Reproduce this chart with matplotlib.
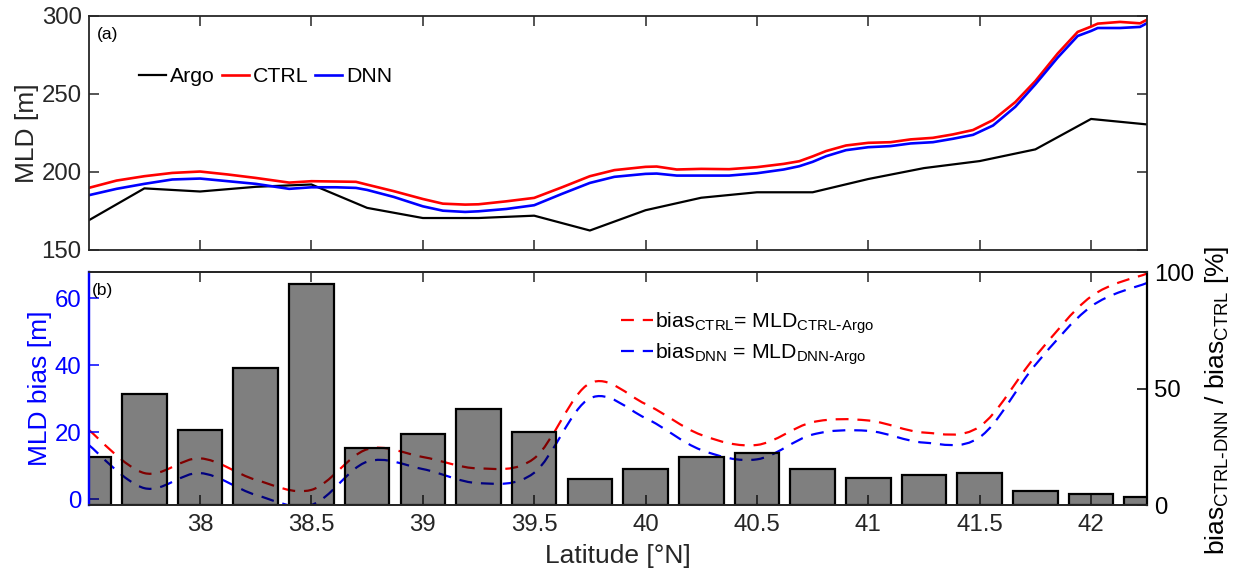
import numpy as np
import matplotlib
matplotlib.use("Agg")
import matplotlib.pyplot as plt
from matplotlib.path import Path
from matplotlib.patches import PathPatch
from matplotlib.lines import Line2D

plt.rcParams["font.family"] = ["Liberation Sans", "DejaVu Sans"]
plt.rcParams["mathtext.default"] = "regular"

# ---------------- data ----------------
# Argo climatology along the section (0.25 deg bins)
lat_argo = [37.5, 37.75, 38.0, 38.25, 38.5, 38.75, 39.0, 39.25, 39.5, 39.75,
            40.0, 40.25, 40.5, 40.75, 41.0, 41.25, 41.5, 41.75, 42.0, 42.25]
mld_argo = [169.0, 189.5, 187.5, 190.5, 192.0, 177.0, 170.5, 170.5, 172.0, 162.5,
            175.5, 183.5, 187.0, 187.0, 195.5, 202.5, 207.0, 214.5, 234.0, 230.5]

# model MLD on the model grid
lat_model = [37.5, 37.625, 37.75, 37.875, 38.0, 38.125, 38.25, 38.4, 38.5, 38.61,
             38.7, 38.75, 38.87, 39.0, 39.09, 39.19, 39.25, 39.375, 39.5, 39.625,
             39.75, 39.86, 40.0, 40.05, 40.14, 40.25, 40.375, 40.5, 40.62, 40.69,
             40.75, 40.81, 40.9, 41.0, 41.1, 41.19, 41.29, 41.38, 41.47, 41.56,
             41.66, 41.75, 41.85, 41.94, 42.0, 42.03, 42.13, 42.22, 42.25]
mld_ctrl = [189.8, 194.5, 197.3, 199.4, 200.3, 198.4, 196.2, 193.2, 194.1, 193.9,
            193.7, 191.9, 187.7, 182.7, 179.7, 179.1, 179.3, 181.2, 183.4, 190.2,
            197.3, 201.2, 203.3, 203.5, 201.6, 202.0, 201.8, 203.1, 205.2, 206.9,
            210.0, 213.4, 217.0, 218.7, 219.1, 220.9, 221.9, 224.1, 226.9, 233.3,
            244.8, 258.3, 275.9, 289.8, 293.2, 295.1, 296.2, 295.3, 297.5]
mld_dnn = [185.1, 189.2, 192.4, 195.2, 195.8, 194.1, 192.4, 189.2, 190.2, 190.2,
           189.8, 188.5, 184.0, 178.0, 175.2, 174.4, 174.8, 176.3, 178.7, 186.0,
           193.0, 196.9, 198.8, 199.0, 197.7, 197.7, 197.7, 199.2, 201.6, 203.7,
           206.5, 210.1, 214.0, 215.9, 216.6, 218.3, 219.1, 221.3, 223.8, 229.8,
           241.8, 256.2, 273.3, 287.2, 290.4, 292.3, 292.3, 293.0, 295.3]

# MLD bias relative to Argo at the Argo bins [m]
bias_ctrl = [20.7, 7.8, 12.2, 5.8, 2.8, 14.9, 12.6, 9.2, 12.2, 34.6,
             28.4, 19.2, 16.2, 23.0, 23.5, 19.9, 21.7, 42.6, 60.5, 67.3]
bias_dnn = [16.2, 3.3, 7.8, 1.3, -1.7, 11.2, 9.0, 4.8, 7.9, 30.1,
            24.2, 14.7, 11.9, 19.3, 20.4, 16.9, 18.5, 40.1, 57.5, 64.5]

# bias reduction (CTRL-DNN)/CTRL [%]
reduction_pct = [20.6, 47.9, 32.2, 58.7, 94.7, 24.5, 30.7, 41.4, 31.2, 11.3,
                 15.6, 20.6, 22.3, 15.6, 11.9, 13.0, 13.7, 6.1, 4.7, 3.4]

xtick_vals = [38, 38.5, 39, 39.5, 40, 40.5, 41, 41.5, 42]
xtick_labels = ["38", "38.5", "39", "39.5", "40", "40.5", "41", "41.5", "42"]


def smooth_path(x, y):
    """Cubic Bezier path through (x, y) with Catmull-Rom tangents."""
    x = np.asarray(x, float)
    y = np.asarray(y, float)
    px = np.concatenate([[x[0]], x, [x[-1]]])
    py = np.concatenate([[y[0]], y, [y[-1]]])
    verts = [(x[0], y[0])]
    codes = [Path.MOVETO]
    for i in range(1, len(x)):
        p0 = np.array([px[i - 1], py[i - 1]])
        p1 = np.array([px[i], py[i]])
        p2 = np.array([px[i + 1], py[i + 1]])
        p3 = np.array([px[i + 2], py[i + 2]])
        c1 = p1 + (p2 - p0) / 6.0
        c2 = p2 - (p3 - p1) / 6.0
        verts += [tuple(c1), tuple(c2), tuple(p2)]
        codes += [Path.CURVE4] * 3
    return Path(verts, codes)


AXC = "#262626"
TICK_FS = 17.3
LAB_FS = 19
LEG_FS = 15.3
DASH = (0, (5.8, 4.0))

fig = plt.figure(figsize=(12.42, 5.73), dpi=100)
left, right = 0.0714, 0.9233
ax1 = fig.add_axes([left, 0.5637, right - left, 0.9721 - 0.5637])
ax = fig.add_axes([left, 0.1182, right - left, 0.5253 - 0.1182])

# ---------------- (a) MLD ----------------
ax1.plot(lat_argo, mld_argo, color="k", lw=1.6, label="Argo")
ax1.plot(lat_model, mld_ctrl, color="#ff0000", lw=1.9, label="CTRL")
ax1.plot(lat_model, mld_dnn, color="#0000ff", lw=1.9, label="DNN")
ax1.set_xlim(37.5, 42.25)
ax1.set_ylim(150, 300)
ax1.set_yticks([150, 200, 250, 300])
ax1.set_xticks(xtick_vals)
ax1.tick_params(axis="both", direction="in", length=7, width=1.1, colors=AXC,
                top=True, right=True, labelbottom=False, labelsize=TICK_FS, pad=5)
for s in ax1.spines.values():
    s.set_color(AXC)
    s.set_linewidth(1.3)
ax1.set_ylabel("MLD [m]", fontsize=LAB_FS, color=AXC, labelpad=2)
ax1.text(0.008, 0.9, "(a)", transform=ax1.transAxes, fontsize=12.5, color="k")
ax1.legend(loc="center left", bbox_to_anchor=(0.048, 0.74), ncol=3, frameon=False,
           fontsize=LEG_FS, handlelength=1.25, handletextpad=0.18,
           columnspacing=0.35, borderpad=0, borderaxespad=0)

# ---------------- (b) bias ----------------
ax.add_patch(PathPatch(smooth_path(lat_argo, bias_ctrl), fill=False,
                       edgecolor="#ff0000", lw=1.6, linestyle=DASH))
ax.add_patch(PathPatch(smooth_path(lat_argo, bias_dnn), fill=False,
                       edgecolor="#0000ff", lw=1.6, linestyle=DASH))
ax.set_xlim(37.5, 42.25)
ax.set_ylim(-1.8, 67.8)
ax.set_yticks([0, 20, 40, 60])
ax.set_xticks(xtick_vals)
ax.set_xticklabels(xtick_labels)
ax.tick_params(axis="x", direction="in", length=7, width=1.1, colors=AXC,
               top=True, labelsize=TICK_FS, pad=6)
ax.tick_params(axis="y", direction="in", length=7, width=1.1, colors="#0000ff",
               labelsize=TICK_FS, pad=5)
ax.spines["left"].set_color("#0000ff")
ax.spines["left"].set_linewidth(1.6)
ax.spines["right"].set_visible(False)
for k in ("top", "bottom"):
    ax.spines[k].set_color(AXC)
    ax.spines[k].set_linewidth(1.3)
ax.set_ylabel("MLD bias [m]", fontsize=LAB_FS, color="#0000ff", labelpad=2)
ax.set_xlabel("Latitude [\u00b0N]", fontsize=LAB_FS, color=AXC, labelpad=6)
ax.text(0.003, 0.9, "(b)", transform=ax.transAxes, fontsize=12.5, color="k")

ax2 = ax.twinx()
ax2.bar(lat_argo, reduction_pct, width=0.2, facecolor=(0, 0, 0, 0.5),
        edgecolor="k", linewidth=1.6)
ax2.set_ylim(0, 100)
ax2.set_yticks([0, 50, 100])
ax2.tick_params(axis="y", direction="in", length=7, width=1.1, colors="k",
                labelsize=TICK_FS, pad=5)
ax2.spines["left"].set_color("#0000ff")
ax2.spines["left"].set_linewidth(1.6)
ax2.spines["right"].set_color("k")
ax2.spines["right"].set_linewidth(1.6)
for k in ("top", "bottom"):
    ax2.spines[k].set_color(AXC)
    ax2.spines[k].set_linewidth(1.3)
ax2.set_ylabel("bias$_{CTRL\\text{-}DNN}$ / bias$_{CTRL}$ [%]",
               fontsize=LAB_FS, color="k", labelpad=4)
ax2.yaxis.set_label_coords(1.053, 0.45)

handles = [Line2D([], [], color="#ff0000", lw=1.6, linestyle=DASH),
           Line2D([], [], color="#0000ff", lw=1.6, linestyle=DASH)]
labels = ["bias$_{CTRL}$= MLD$_{CTRL\\text{-}Argo}$",
          "bias$_{DNN}$ = MLD$_{DNN\\text{-}Argo}$"]
ax2.legend(handles, labels, loc="center left", bbox_to_anchor=(0.503, 0.715),
           frameon=False, fontsize=LEG_FS, handlelength=1.5, handletextpad=0.1,
           labelspacing=0.25, borderpad=0, borderaxespad=0)

fig.savefig("out.png", dpi=100)
